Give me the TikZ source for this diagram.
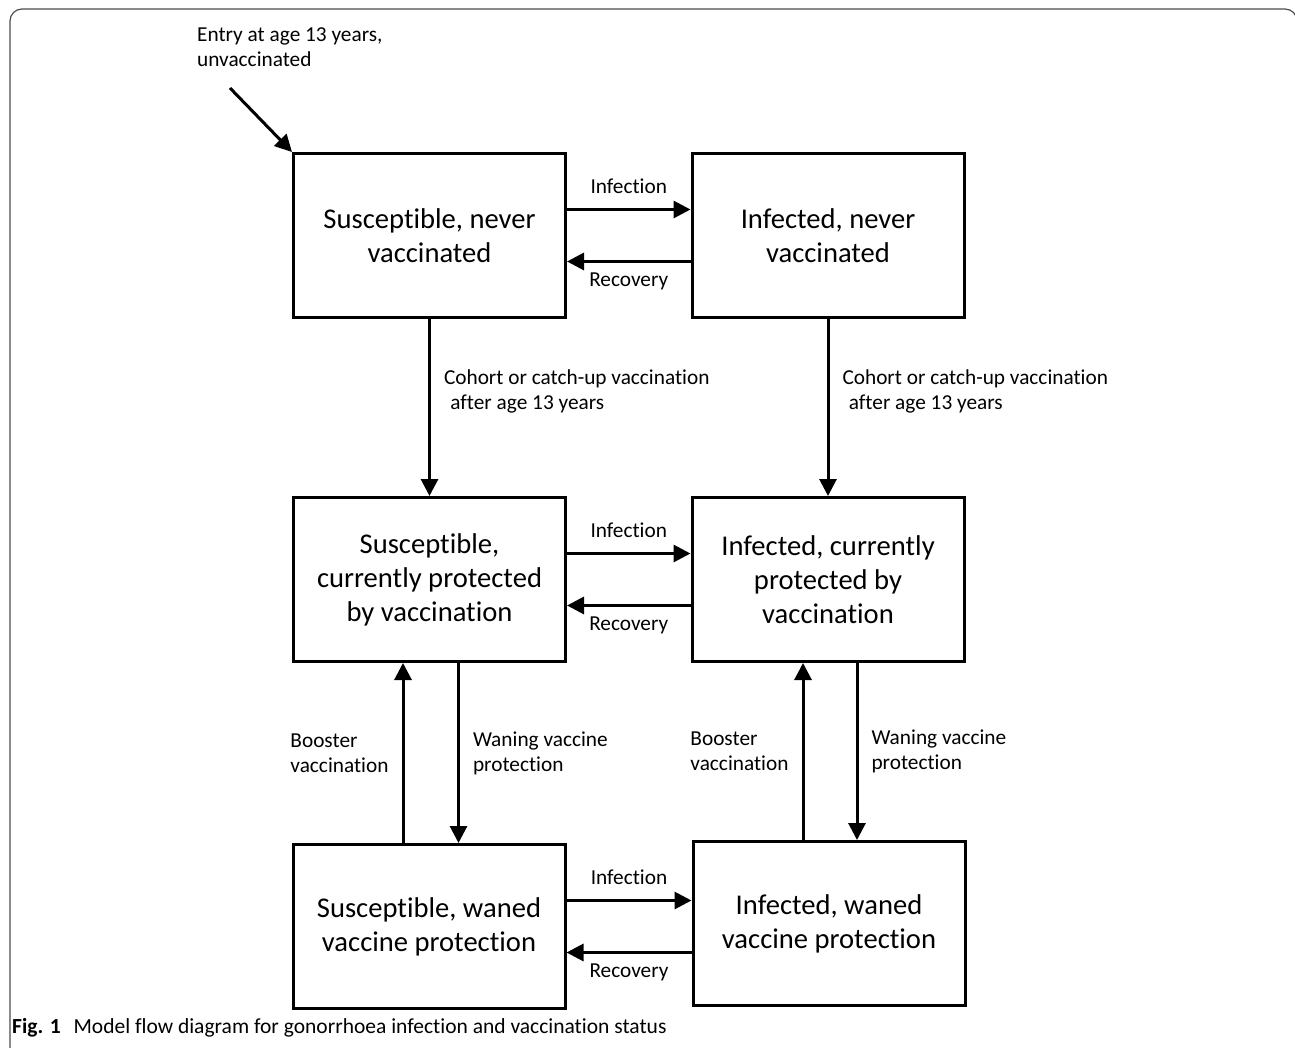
\documentclass[tikz,border=0pt]{standalone}
\usepackage{fontspec}
\setmainfont{Carlito}[Ligatures=NoCommon]
\usetikzlibrary{arrows.meta}

\begin{document}
\begin{tikzpicture}[x=1pt,y=-1pt,
        state/.style={draw,line width=3pt,minimum width=272pt,minimum height=164pt,align=center,font=\fontsize{28.6}{34}\selectfont},
        flow/.style={line width=3pt,-{Triangle[length=17pt,width=17pt]}},
        lbl/.style={inner sep=2pt,align=left,font=\fontsize{21.3}{25}\selectfont}]
    \useasboundingbox (0,0) rectangle (1295,1048);
    \clip (0,0) rectangle (1295,1048);
    \draw[black!70,line width=1.2pt,rounded corners=12pt] (10,9) rectangle (1297,1070);

    % compartments
    \node[state] (SN) at (429.5,235.5) {Susceptible, never\\vaccinated};
    \node[state] (IN) at (828,235.5) {Infected, never\\vaccinated};
    \node[state] (SP) at (429.5,579.5) {Susceptible,\\currently protected\\by vaccination};
    \node[state] (IP) at (828,579.5) {Infected, currently\\protected by\\vaccination};
    \node[state] (SW) at (429,926.5) {Susceptible, waned\\vaccine protection};
    \node[state] (IW) at (829,923.5) {Infected, waned\\vaccine protection};

    % entry
    \node[lbl,anchor=west] (entry) at (195,47) {Entry at age 13 years,\\unvaccinated};
    \coordinate (entrytail) at (230,88);
    \draw[flow] (entrytail) -- (SN.north west);

    % infection and recovery
    \foreach \s/\i in {SN/IN,SP/IP,SW/IW}{
        \draw[flow] ([yshift=26pt]\s.east) -- node[lbl,above=12pt] (inf\s) {Infection} ([yshift=26pt]\s.east -| \i.west);
        \draw[flow] ([yshift=-26pt]\s.east -| \i.west) -- node[lbl,below=8pt] (rec\s) {Recovery} ([yshift=-26pt]\s.east);
    }

    % vaccination
    \draw[flow] (SN) -- node[lbl,pos=0.41,right=11pt] (cohS) {Cohort or catch-up vaccination\\\hspace{0.3em}after age 13 years} (SP);
    \draw[flow] (IN) -- node[lbl,pos=0.41,right=11pt] (cohI) {Cohort or catch-up vaccination\\\hspace{0.3em}after age 13 years} (IP);

    % booster and waning
    \foreach \p/\w in {SP/SW,IP/IW}{
        \draw[flow] ([xshift=-26pt]\w.north) -- node[lbl,left=11pt] (bst\w) {Booster\\vaccination} ([xshift=-26pt]\w.north |- \p.south);
        \draw[flow] ([xshift=29pt]\p.south) -- node[lbl,right=11pt] (wan\p) {Waning vaccine\\protection} ([xshift=29pt]\p.south |- \w.north);
    }

    \node[anchor=west,inner sep=0pt,font=\fontsize{21.5}{24}\selectfont] (caption) at (12,1028) {\textbf{Fig. 1}\hspace{0.6em}Model flow diagram for gonorrhoea infection and vaccination status};
\end{tikzpicture}
\end{document}
